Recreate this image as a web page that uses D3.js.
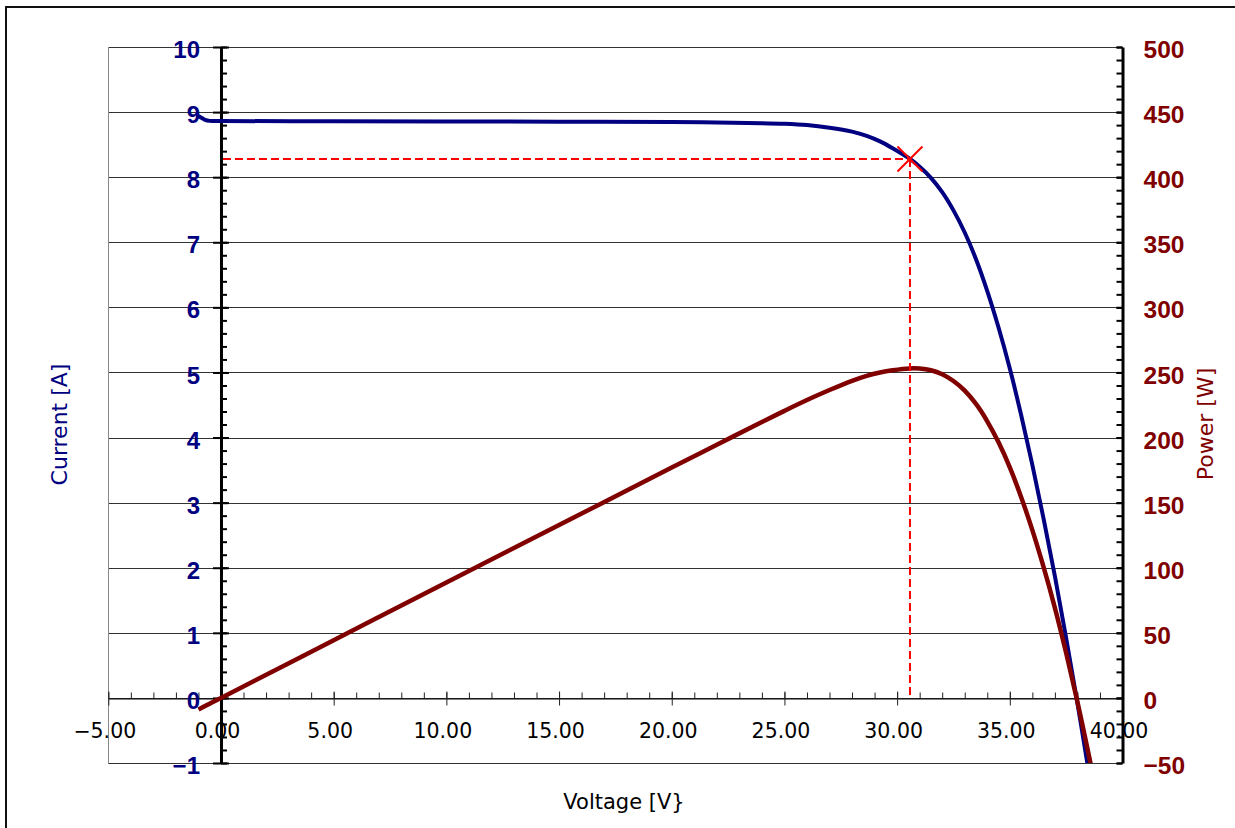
<!DOCTYPE html>
<html>
<head>
<meta charset="utf-8">
<script src="https://cdnjs.cloudflare.com/ajax/libs/d3/7.8.5/d3.min.js"></script>
<style>
  body { margin: 0; background: #fff; }
  svg { display: block; }
</style>
</head>
<body>
<div id="chart"></div>
<script>
// I-V / P-V curve of a PV module
var voltage = [-1.0, -0.85, -0.7, -0.5, 0, 5, 10, 15, 20, 22, 24, 25, 26, 27, 28, 28.65, 29.24, 29.8,
  30.57, 31, 31.5, 32, 32.5, 33, 33.5, 34, 34.5, 35, 35.5, 36, 36.5, 37, 37.5, 38, 38.5, 38.7];
var current = [8.94, 8.91, 8.88, 8.865, 8.862, 8.86, 8.857, 8.853, 8.846, 8.84, 8.83, 8.82, 8.80, 8.76, 8.70, 8.635, 8.55, 8.445,
  8.28, 8.16, 7.99, 7.77, 7.49, 7.15, 6.74, 6.25, 5.69, 5.06, 4.35, 3.58, 2.75, 1.87, 0.92, -0.08, -1.13, -1.56];
var power = [-8.9, -7.6, -6.2, -4.4, 0, 44.3, 88.6, 132.8, 176.9, 194.5, 211.9, 220.5, 228.8, 236.5, 243.6, 247.4, 250, 251.7,
  253.1, 253.0, 251.7, 248.6, 243.4, 236.0, 225.8, 212.5, 196.3, 177.1, 154.4, 128.9, 100.4, 69.2, 34.5, -3.0, -43.5, -60.4];
var mpp = [30.57, 8.28];  // [V, A]

var voltageTicks = [-5, 0, 5, 10, 15, 20, 25, 30, 35, 40];
var currentTicks = [-1, 0, 1, 2, 3, 4, 5, 6, 7, 8, 9, 10];
var powerTicks = [-50, 0, 50, 100, 150, 200, 250, 300, 350, 400, 450, 500];

var width = 1235, height = 828;
var plotLeft = 108.3, plotRight = 1122.5, plotTop = 47, plotBottom = 763;
var navy = "#000080", maroon = "#800000", red = "#ff0000";

var svg = d3.select("#chart")
  .append("svg")
  .attr("width", width)
  .attr("height", height);

var x = d3.scaleLinear().domain([-5, 40]).range([plotLeft, plotRight]);
var yI = d3.scaleLinear().domain([-1, 10]).range([plotBottom, plotTop]);
var yP = d3.scaleLinear().domain([-50, 500]).range([plotBottom, plotTop]);

// outer frame (only top and left edges fall inside the picture)
svg.append("path")
  .attr("d", "M6,840V7H1240")
  .attr("fill", "none")
  .attr("stroke", "#111")
  .attr("stroke-width", 2);

svg.append("defs").append("clipPath")
  .attr("id", "plot-clip")
  .append("rect")
  .attr("x", plotLeft)
  .attr("y", plotTop)
  .attr("width", plotRight - plotLeft)
  .attr("height", plotBottom - plotTop);

// horizontal grid
svg.append("g")
  .selectAll("line")
  .data(currentTicks)
  .enter()
  .append("line")
  .attr("x1", plotLeft)
  .attr("x2", plotRight)
  .attr("y1", function (d) { return Math.round(yI(d)) + 0.5; })
  .attr("y2", function (d) { return Math.round(yI(d)) + 0.5; })
  .attr("stroke", "#333")
  .attr("stroke-width", 1);

svg.append("line")
  .attr("x1", Math.round(plotLeft) + 0.5)
  .attr("x2", Math.round(plotLeft) + 0.5)
  .attr("y1", plotTop)
  .attr("y2", plotBottom)
  .attr("stroke", "#888")
  .attr("stroke-width", 1);

// x axis along I = 0
var xAxisY = Math.round(yI(0)) + 0.5;
svg.append("g")
  .attr("transform", "translate(0," + xAxisY + ")")
  .call(d3.axisTop(x).tickValues(d3.range(-5, 40.001, 1)).tickSize(6).tickSizeOuter(0).tickFormat(""))
  .call(function (g) { g.select(".domain").remove(); })
  .selectAll(".tick line")
  .attr("stroke", "#222");

var xAxis = svg.append("g")
  .attr("transform", "translate(0," + xAxisY + ")")
  .call(d3.axisBottom(x).tickValues(voltageTicks).tickSizeInner(7).tickSizeOuter(0).tickFormat(d3.format(".2f")));
xAxis.select(".domain").attr("stroke", "#000");
xAxis.selectAll(".tick line").attr("y1", -7).attr("stroke", "#222");
xAxis.selectAll(".tick text")
  .attr("y", 39)
  .attr("dy", null)
  .attr("dx", -4)
  .attr("fill", "#000")
  .attr("font-family", "DejaVu Sans")
  .attr("font-size", "20.5px");

// left axis (current) at V = 0
var yAxisX = x(0);
svg.append("g")
  .attr("transform", "translate(" + yAxisX + ",0)")
  .call(d3.axisRight(yI).tickValues(d3.range(-1, 10.001, 0.2)).tickSize(6).tickSizeOuter(0).tickFormat(""))
  .call(function (g) { g.select(".domain").remove(); })
  .selectAll(".tick line")
  .attr("stroke", "#000")
  .attr("stroke-width", 2);

var yAxisLeft = svg.append("g")
  .attr("transform", "translate(" + yAxisX + ",0)")
  .call(d3.axisLeft(yI).tickValues(currentTicks).tickSizeInner(8).tickSizeOuter(0).tickPadding(13).tickFormat(d3.format("d")));
yAxisLeft.select(".domain").attr("stroke", "#000").attr("stroke-width", 3);
yAxisLeft.selectAll(".tick line").attr("x1", 8).attr("stroke", "#000").attr("stroke-width", 2);
yAxisLeft.selectAll(".tick text")
  .attr("dy", "0.44em")
  .attr("fill", navy)
  .attr("font-family", "Liberation Sans, Arial, sans-serif")
  .attr("font-weight", "bold")
  .attr("font-size", "24px");

// right axis (power)
svg.append("g")
  .attr("transform", "translate(" + plotRight + ",0)")
  .call(d3.axisRight(yP).tickValues(d3.range(-50, 500.001, 10)).tickSize(-6).tickSizeOuter(0).tickFormat(""))
  .call(function (g) { g.select(".domain").remove(); })
  .selectAll(".tick line")
  .attr("stroke", "#000")
  .attr("stroke-width", 2);

var yAxisRight = svg.append("g")
  .attr("transform", "translate(" + plotRight + ",0)")
  .call(d3.axisRight(yP).tickValues(powerTicks).tickSizeInner(-6).tickSizeOuter(0).tickPadding(21).tickFormat(d3.format("d")));
yAxisRight.select(".domain").attr("stroke", "#000").attr("stroke-width", 3);
yAxisRight.selectAll(".tick line").attr("stroke", "#000").attr("stroke-width", 2);
yAxisRight.selectAll(".tick text")
  .attr("dy", "0.43em")
  .attr("fill", maroon)
  .attr("font-family", "Liberation Sans, Arial, sans-serif")
  .attr("font-weight", "bold")
  .attr("font-size", "24.5px");

// curves
var plot = svg.append("g").attr("clip-path", "url(#plot-clip)");

var currentLine = d3.line()
  .x(function (d, i) { return x(voltage[i]); })
  .y(function (d) { return yI(d); })
  .curve(d3.curveCatmullRom.alpha(0.5));

var powerLine = d3.line()
  .x(function (d, i) { return x(voltage[i]); })
  .y(function (d) { return yP(d); })
  .curve(d3.curveCatmullRom.alpha(0.5));

plot.append("path")
  .datum(current)
  .attr("d", currentLine)
  .attr("fill", "none")
  .attr("stroke", navy)
  .attr("stroke-width", 4)
  .attr("stroke-linejoin", "round");

plot.append("path")
  .datum(power)
  .attr("d", powerLine)
  .attr("fill", "none")
  .attr("stroke", maroon)
  .attr("stroke-width", 4.5)
  .attr("stroke-linejoin", "round");

// maximum power point guides
var guides = svg.append("g")
  .attr("fill", "none")
  .attr("stroke", red)
  .attr("stroke-width", 2)
  .attr("stroke-dasharray", "8,4");

guides.append("line")
  .attr("x1", x(0) + 2)
  .attr("x2", x(mpp[0]))
  .attr("y1", yI(mpp[1]))
  .attr("y2", yI(mpp[1]));

guides.append("line")
  .attr("x1", x(mpp[0]))
  .attr("x2", x(mpp[0]))
  .attr("y1", yI(mpp[1]))
  .attr("y2", yI(0));

svg.append("path")
  .attr("transform", "translate(" + x(mpp[0]) + "," + yI(mpp[1]) + ")")
  .attr("d", d3.symbol().type(d3.symbolTimes).size(410)())
  .attr("fill", "none")
  .attr("stroke", red)
  .attr("stroke-width", 2);

// axis titles
svg.append("text")
  .attr("x", 624)
  .attr("y", 809)
  .attr("text-anchor", "middle")
  .attr("font-family", "DejaVu Sans")
  .attr("font-size", "21px")
  .attr("fill", "#000")
  .text("Voltage [V}");

svg.append("text")
  .attr("transform", "translate(66.5,424.5) rotate(-90)")
  .attr("text-anchor", "middle")
  .attr("font-family", "DejaVu Sans")
  .attr("font-size", "22px")
  .attr("fill", navy)
  .text("Current [A]");

svg.append("text")
  .attr("transform", "translate(1213,424) rotate(-90)")
  .attr("text-anchor", "middle")
  .attr("font-family", "DejaVu Sans")
  .attr("font-size", "22px")
  .attr("fill", maroon)
  .text("Power [W]");
</script>
</body>
</html>
